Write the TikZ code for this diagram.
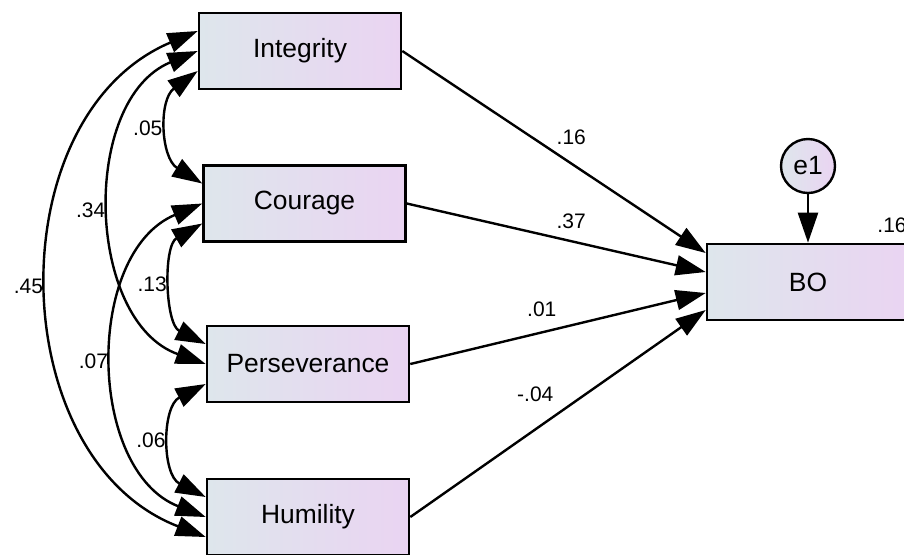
\documentclass[tikz,border=0pt]{standalone}
\usepackage{fontspec}
\setmainfont{Liberation Sans}
\usetikzlibrary{arrows.meta,calc}

\definecolor{boxleft}{RGB}{222,230,236}
\definecolor{boxright}{RGB}{234,212,242}

\tikzset{
	var/.style={draw=black, line width=1.3pt, minimum width=101pt, minimum height=38pt,
		left color=boxleft, right color=boxright, font=\fontsize{13.2}{15}\selectfont},
	err/.style={shape=circle, draw=black, line width=1.2pt, minimum size=27pt, inner sep=0pt,
		left color=boxleft, right color=boxright, font=\fontsize{13.2}{15}\selectfont},
	reg/.style={-{Triangle[length=15pt,width=10pt]}, line width=1.2pt},
	cov/.style={{Triangle[length=15pt,width=10pt]}-{Triangle[length=15pt,width=10pt]}, line width=1.2pt},
	coef/.style={font=\fontsize{10.5}{12}\selectfont, inner sep=0pt},
}

\begin{document}
\begin{tikzpicture}[x=0.5pt, y=-0.5pt]
	
	\path[use as bounding box, clip] (0,0) rectangle (904,554);
	
	\node[var] (integrity) at (300, 51)    {Integrity};
	\node[var] (courage)   at (304.5, 203.5) {Courage};
	\node[var] (persev)    at (308, 364)   {Perseverance};
	\node[var] (humility)  at (308, 517)   {Humility};
	\node[var] (bo)        at (808, 282)   {BO};
	\node[err] (e1)        at (808, 166)   {e1};
	\node[coef, anchor=west] (bor2) at (877, 225) {.16};
	
	\path[reg] (integrity.east) edge node[coef, pos=.557, above=9pt]{.16} ($(bo.west)+(0,-29)$);
	\path[reg] (courage.east) edge node[coef, pos=.55, above=5.75pt]{.37} ($(bo.west)+(0,-10)$);
	\path[reg] (persev.east) edge node[coef, pos=.445, above=7.5pt]{.01} ($(bo.west)+(0,11)$);
	\path[reg] (humility.east) edge node[coef, pos=.423, above=13.3pt]{-.04} ($(bo.west)+(0,28)$);
	\path[reg] (e1) edge (bo);
	
	\path[cov] ([yshift=-10pt]integrity.west) edge[bend right=56, looseness=1.11] node[coef, left=3pt]{.05} ([yshift=10pt]courage.west);
	\path[cov] (integrity.west) edge[bend right=69, looseness=1.04] node[coef, left=3pt]{.34} (persev.west);
	\path[cov] ([yshift=10pt]integrity.west) edge[bend right=68, looseness=1.10] node[coef, left=3pt]{.45} ([yshift=-10pt]humility.west);
	\path[cov] ([yshift=-10pt]courage.west) edge[bend right=62, looseness=0.96] node[coef, left=3pt]{.13} ([yshift=10pt]persev.west);
	\path[cov] (courage.west) edge[bend right=68, looseness=1.04] node[coef, left=3pt]{.07} (humility.west);
	\path[cov] ([yshift=-10pt]persev.west) edge[bend right=63, looseness=1.12] node[coef, left=3pt]{.06} ([yshift=10pt]humility.west);
	
\end{tikzpicture}
\end{document}
